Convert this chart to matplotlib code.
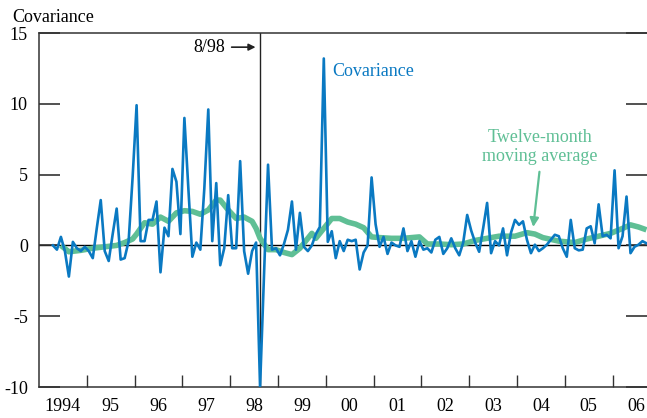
import matplotlib
matplotlib.use('Agg')
import matplotlib.pyplot as plt
import numpy as np
import pandas as pd

BLUE = '#0a79c2'
GREEN = '#5fbf95'

# monthly covariance, Apr 1994 - Sep 2006
start_month = '1994-04'
covariance = [
    0.0, -0.3, 0.6, -0.4, -2.2, 0.25, -0.2, -0.4, -0.1,            # 1994
    -0.4, -0.9, 1.2, 3.2, -0.4, -1.1, 0.8, 2.6, -1.0, -0.9, 0.3, 4.8,  # 1995
    9.9, 0.3, 0.3, 1.8, 1.8, 3.1, -1.9, 1.25, 0.65, 5.4, 4.5, 0.8,  # 1996
    9.0, 4.0, -0.8, 0.2, -0.3, 4.0, 9.6, 0.3, 4.4, -1.4, -0.2, 3.55,  # 1997
    -0.2, -0.2, 5.95, -0.4, -2.0, -0.4, 0.2, -10.0, -2.0, 5.7, -0.3, -0.2,  # 1998
    -0.7, 0.1, 1.1, 3.1, -0.3, 2.3, -0.1, -0.4, 0.0, 0.8, 1.3, 13.2,  # 1999
    0.25, 1.0, -0.9, 0.3, -0.4, 0.4, 0.3, 0.4, -1.7, -0.5, 0.0, 4.8,  # 2000
    1.5, -0.1, 0.6, -0.6, 0.2, 0.0, -0.1, 1.2, -0.4, 0.3, -0.8, 0.3,  # 2001
    -0.3, -0.2, -0.5, 0.4, 0.6, -0.6, -0.2, 0.5, -0.2, -0.7, 0.2, 2.15,  # 2002
    1.05, 0.2, -0.45, 1.2, 3.0, -0.55, 0.3, 0.0, 1.2, -0.7, 0.9, 1.8,  # 2003
    1.45, 1.7, 0.4, -0.55, 0.05, -0.4, -0.2, 0.05, 0.4, 0.75, 0.65, -0.2,  # 2004
    -0.8, 1.8, -0.2, -0.35, -0.3, 1.2, 1.35, 0.15, 2.9, 0.65, 0.75, 0.5,  # 2005
    5.3, -0.2, 0.65, 3.45, -0.55, -0.1, 0.05, 0.3, 0.15,            # 2006
]

# twelve-month moving average, read at selected months (offset from Apr 1994)
ma_month_offset = [2, 4, 7, 10, 13, 16, 18, 20, 21, 23, 25, 27, 29, 31, 33, 35,
                   37, 39, 41, 42, 44, 46, 48, 50, 51, 52, 54, 56, 58, 60, 62,
                   64, 65, 66, 68, 70, 72, 74, 76, 78, 80, 82, 85, 88, 90, 92,
                   94, 97, 100, 103, 106, 109, 112, 116, 119, 121, 123, 127,
                   131, 134, 137, 140, 143, 145, 147, 149]
moving_avg = [0.0, -0.45, -0.35, -0.2, -0.1, 0.0, 0.2, 0.45, 0.8, 1.6, 1.5,
              2.0, 1.7, 2.3, 2.45, 2.4, 2.2, 2.5, 3.2, 3.2, 2.5, 1.9, 2.0, 1.7,
              1.2, 0.5, -0.3, -0.3, -0.5, -0.65, -0.2, 0.5, 0.85, 0.5, 1.2,
              1.9, 1.9, 1.65, 1.5, 1.25, 0.6, 0.55, 0.5, 0.5, 0.55, 0.6, 0.1,
              0.1, 0.05, 0.1, 0.35, 0.5, 0.65, 0.65, 0.9, 0.8, 0.55, 0.3, 0.2,
              0.45, 0.65, 0.85, 1.2, 1.45, 1.3, 1.1]

year_labels = ['1994', '95', '96', '97', '98', '99', '00', '01', '02', '03',
               '04', '05', '06']
y_ticks = [15, 10, 5, 0, -5, -10]


def to_year(dates):
    # mid-month decimal year
    return dates.year + (dates.month - 0.5) / 12.0


months = pd.date_range(start_month, periods=len(covariance), freq='MS')
t = to_year(months)
t_ma = np.asarray(t)[ma_month_offset]

plt.rcParams['font.family'] = ['Liberation Serif', 'DejaVu Serif']

fig = plt.figure(figsize=(6.47, 4.18), dpi=100)
ax = fig.add_axes([39 / 647, 1 - 387 / 418, 1 - 39 / 647, (387 - 33) / 418])

ax.axhline(0, color='black', lw=1.0, zorder=1)
shock = to_year(pd.DatetimeIndex(['1998-08-01']))[0]
ax.axvline(shock, color='#222222', lw=1.0, zorder=1)

ax.plot(t_ma, moving_avg, color=GREEN, lw=4.0, solid_capstyle='butt', zorder=2)
ax.plot(t, covariance, color=BLUE, lw=1.9, zorder=3)

ax.set_xlim(1994, 2006.72)
ax.set_ylim(-10, 15)

ax.set_xticks(np.arange(1995, 2007))
ax.set_xticklabels([])
ax.set_xticks(np.arange(1994, 2007) + 0.5, minor=True)
ax.set_xticklabels(year_labels, minor=True)
ax.tick_params(axis='x', which='major', direction='in', length=9, width=1,
               color='#333333')
ax.tick_params(axis='x', which='minor', length=0, pad=8, labelsize=13)

ax.set_yticks(y_ticks)
ax.set_yticklabels([str(v) for v in y_ticks])
ax.tick_params(axis='y', direction='in', length=15, width=1.2, color='#333333',
               right=True, labelsize=13, pad=8)

for side in ['left', 'bottom', 'top']:
    ax.spines[side].set_color('#333333')
    ax.spines[side].set_linewidth(1.1)
ax.spines['right'].set_visible(False)

fig.text(12 / 647, 1 - 17 / 418, 'Covariance', fontsize=13, va='center',
         ha='left')

# 8/98 label with arrow
ax.text(1997.57, 14.0, '8/98', fontsize=13, va='center', ha='center')
ax.annotate('', xy=(1998.53, 14.0), xytext=(1998.03, 14.0),
            arrowprops=dict(arrowstyle='-|>', color='#222222', lw=1.2,
                            shrinkA=0, shrinkB=0, mutation_scale=10))

ax.text(2000.14, 12.25, 'Covariance', color=BLUE, fontsize=13, va='center')

ax.text(2004.48, 6.95, 'Twelve-month\nmoving average', color=GREEN,
        fontsize=13, ha='center', va='center', linespacing=1.1)
ax.annotate('', xy=(2004.34, 1.3), xytext=(2004.47, 5.2),
            arrowprops=dict(arrowstyle='-|>', color=GREEN, lw=1.6,
                            shrinkA=0, shrinkB=0, mutation_scale=13))

fig.savefig('out.png', dpi=100)
